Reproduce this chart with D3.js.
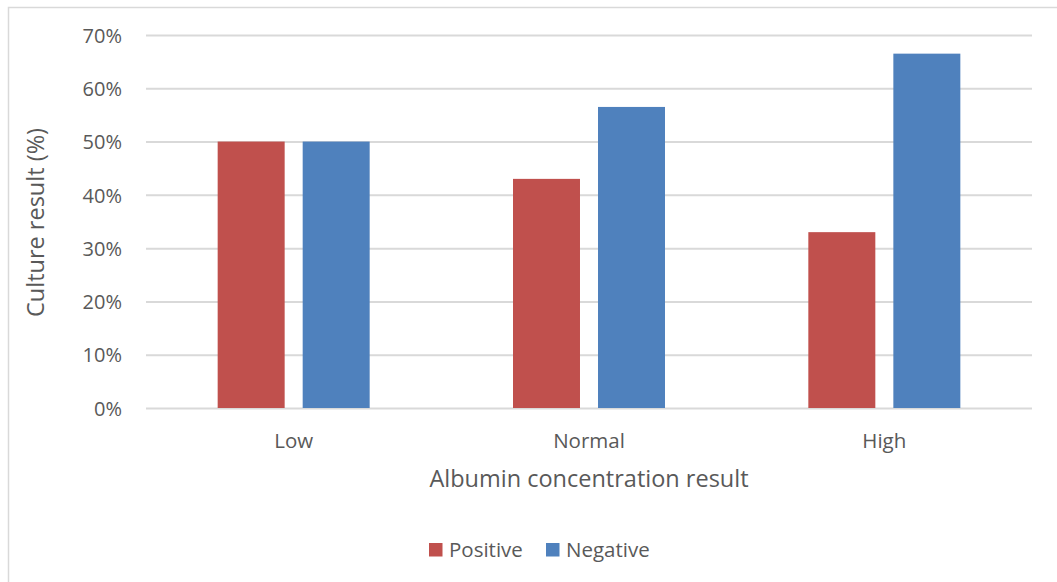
<!DOCTYPE html>
<html>
<head>
<meta charset="utf-8">
<script src="https://cdn.jsdelivr.net/npm/d3@7/dist/d3.min.js"></script>
<style>
  html, body { margin: 0; padding: 0; background: #fff; }
  svg { display: block; }
  svg text { font-family: "Open Sans", sans-serif; }
</style>
</head>
<body>
<svg id="chart" width="1057" height="582"></svg>
<script>
// Culture result by albumin concentration group
const categories = ["Low", "Normal", "High"];
const seriesNames = ["Positive", "Negative"];
const positiveValues = [50, 43, 33];
const negativeValues = [50, 56.5, 66.5];
const yTicks = [0, 10, 20, 30, 40, 50, 60, 70];
const seriesColors = ["#C0504D", "#4F81BD"];

const svg = d3.select("#chart");
const W = 1057, H = 582;
const plot = { left: 146, right: 1032, top: 35, bottom: 408 };
const textColor = "#595959";

// Outer frame
svg.append("rect")
  .attr("x", 8.5).attr("y", 7.5)
  .attr("width", W + 20).attr("height", H + 20)
  .attr("fill", "#fff")
  .attr("stroke", "#d9d9d9")
  .attr("stroke-width", 1.5);

const x0 = d3.scaleBand().domain(categories).range([plot.left, plot.right]).padding(0);
const x1 = d3.scaleBand().domain(seriesNames).range([0, x0.bandwidth()])
  .paddingInner(0.212).paddingOuter(0.843);
const y = d3.scaleLinear().domain([0, 70]).range([plot.bottom, plot.top]);

// Gridlines and y labels
const yAxis = d3.axisLeft(y)
  .tickValues(yTicks)
  .tickFormat(d => d + "%")
  .tickSize(-(plot.right - plot.left))
  .tickPadding(24);
const gy = svg.append("g").attr("transform", `translate(${plot.left},0)`).call(yAxis);
gy.select(".domain").remove();
gy.selectAll(".tick line").attr("stroke", "#d9d9d9").attr("stroke-width", 2);
gy.selectAll(".tick text")
  .attr("fill", textColor)
  .style("font-size", "20px")
  .attr("dy", "0.36em");

// Bars
const rows = categories.map((c, i) => ({ category: c, values: [positiveValues[i], negativeValues[i]] }));
const groups = svg.append("g").selectAll("g")
  .data(rows).join("g")
  .attr("transform", d => `translate(${x0(d.category)},0)`);
groups.selectAll("rect")
  .data(d => d.values.map((v, j) => ({ name: seriesNames[j], value: v, color: seriesColors[j] })))
  .join("rect")
  .attr("x", d => x1(d.name))
  .attr("width", x1.bandwidth())
  .attr("y", d => y(d.value))
  .attr("height", d => y(0) - y(d.value))
  .attr("fill", d => d.color);

// Category labels
const xAxis = d3.axisBottom(x0).tickSize(0);
const gx = svg.append("g").attr("transform", `translate(0,${plot.bottom})`).call(xAxis);
gx.select(".domain").remove();
gx.selectAll(".tick text")
  .attr("fill", textColor)
  .attr("y", 39.5).attr("dy", 0)
  .style("font-size", "20.5px");

// Axis titles
svg.append("text")
  .attr("x", (plot.left + plot.right) / 2 - 0).attr("y", 487)
  .attr("text-anchor", "middle")
  .attr("fill", textColor)
  .style("font-size", "23.5px")
  .text("Albumin concentration result");

svg.append("text")
  .attr("transform", `translate(44,${(plot.top + plot.bottom) / 2 + 1}) rotate(-90)`)
  .attr("text-anchor", "middle")
  .attr("fill", textColor)
  .style("font-size", "23.5px")
  .text("Culture result (%)");

// Legend
const legendItems = [
  { name: seriesNames[0], color: seriesColors[0], x: 429 },
  { name: seriesNames[1], color: seriesColors[1], x: 546 }
];
const lg = svg.append("g").selectAll("g").data(legendItems).join("g")
  .attr("transform", d => `translate(${d.x},543)`);
lg.append("rect").attr("width", 13.5).attr("height", 13.5).attr("fill", d => d.color);
lg.append("text")
  .attr("x", 20).attr("y", 14)
  .attr("fill", textColor)
  .style("font-size", "20.5px")
  .text(d => d.name);
</script>
</body>
</html>
